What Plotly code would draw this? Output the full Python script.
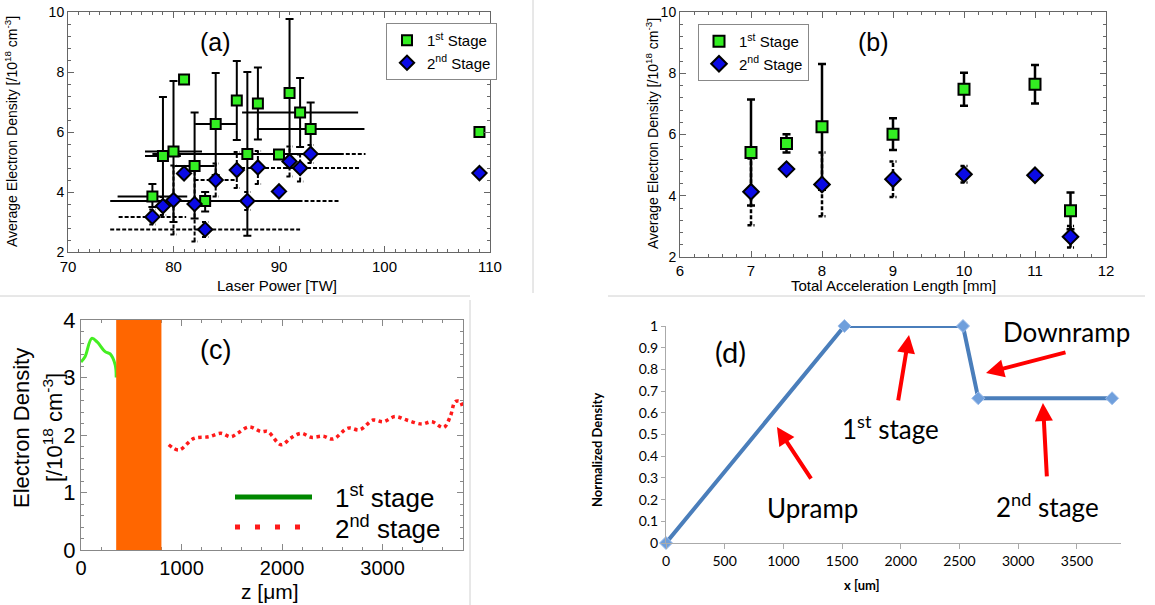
import plotly.graph_objects as go

W, H = 1155, 605

# ---------------- (a) average density vs laser power ----------------
power = [78, 79, 80, 81, 82, 83, 84, 86, 87, 88, 90, 91, 92, 93, 109]
a_stage1 = [3.85, 5.2, 5.35, 7.75, 4.87, 3.7, 6.27, 7.05, 5.27, 6.95, 5.25, 7.3, 6.65, 6.1, 6.0]
a_stage1_up = [0.42, 1.97, 2.35, 0, 1.78, 0.3, 1.7, 1.32, 2.73, 1.2, 0.1, 2.47, 1.15, 0.88, 0]
a_stage1_dn = [0.35, 1.7, 2.35, 0, 1.75, 0.35, 1.7, 1.32, 2.73, 1.2, 0.1, 2.5, 1.15, 0.88, 0]
a_stage1_xerr = [3.3, 1.7, 2.7, 0, 1.9, 9.0, 1.95, 0, 9.0, 0, 0, 0, 5.5, 5.1, 0]
a_stage2 = [3.17, 3.53, 3.73, 4.62, 3.6, 2.75, 4.4, 4.73, 3.7, 4.82, 4.02, 5.02, 4.8, 5.27, 4.63]
a_stage2_err = [0.25, 0.3, 1.15, 0, 1.25, 0.25, 0.55, 0.6, 0.3, 0.55, 0, 0.5, 0.45, 0.3, 0]
a_stage2_xerr = [3.2, 0, 0, 0, 0, 9.0, 2.0, 0, 8.8, 0, 0, 0, 5.6, 5.2, 0]

# ---------------- (b) average density vs acceleration length ----------------
accel_len = [7, 7.5, 8, 9, 10, 11, 11.5]
b_stage1 = [5.41, 5.71, 6.25, 6.01, 7.48, 7.64, 3.51]
b_stage1_err = [1.73, 0.3, 2.05, 0.52, 0.54, 0.63, 0.6]
b_stage2 = [4.13, 4.87, 4.37, 4.54, 4.70, 4.67, 2.66]
b_stage2_err = [1.09, 0.1, 1.04, 0.58, 0.27, 0, 0.35]

# ---------------- (c) simulated density profile ----------------
z_stage1 = [0, 40, 107, 160, 240, 290, 340, 350]
n_stage1 = [3.27, 3.36, 3.68, 3.62, 3.45, 3.41, 3.22, 3.0]
z_stage2 = [873, 973, 1123, 1273, 1390, 1490, 1557, 1673, 1790, 1857, 1990, 2090, 2190,
            2290, 2407, 2507, 2657, 2773, 2907, 3007, 3123, 3240, 3390, 3490, 3607,
            3673, 3723, 3773, 3800]
n_stage2 = [1.83, 1.74, 1.94, 1.97, 2.03, 1.97, 2.03, 2.14, 2.06, 2.06, 1.83, 1.95, 2.03,
            1.96, 1.98, 1.93, 2.12, 2.09, 2.26, 2.23, 2.32, 2.26, 2.19, 2.23, 2.13,
            2.32, 2.58, 2.58, 2.45]
blocked_z = [350, 800]
c_xticks = [0, 1000, 2000, 3000]
c_yticks = [0, 1, 2, 3, 4]

# ---------------- (d) normalized density model ----------------
ramp_x = [0, 1520, 2530, 2660, 3800]
ramp_y = [0, 1, 1, 0.667, 0.667]

GREEN = "#33ee22"
BLUE = "#0a0ae6"
ARIAL = "Liberation Sans"
CALIBRI = "Lato"


def fx(p):
    return p / W


def fy(p):
    return 1 - p / H


def dashed_bars(xs, ys, yerr, xerr, cap):
    sx, sy = [], []
    for x, y, ey, ex in zip(xs, ys, yerr, xerr):
        if ey > 0:
            sx += [x, x, None, x - cap, x + cap, None, x - cap, x + cap, None]
            sy += [y - ey, y + ey, None, y - ey, y - ey, None, y + ey, y + ey, None]
        if ex > 0:
            sx += [x - ex, x + ex, None]
            sy += [y, y, None]
    return sx, sy


fig = go.Figure()

# ---- (a)
sx, sy = dashed_bars(power, a_stage2, a_stage2_err, a_stage2_xerr, 0.3)
fig.add_trace(go.Scatter(x=sx, y=sy, mode="lines", xaxis="x", yaxis="y",
                         line=dict(color="black", width=2, dash="4px,2px"),
                         showlegend=False, hoverinfo="skip"))
fig.add_trace(go.Scatter(
    x=power, y=a_stage1, mode="markers", xaxis="x", yaxis="y",
    name="1<sup>st</sup> Stage", legend="legend",
    marker=dict(symbol="square", size=10, color=GREEN, line=dict(color="black", width=2)),
    error_y=dict(type="data", symmetric=False, array=a_stage1_up, arrayminus=a_stage1_dn,
                 color="black", thickness=2, width=4),
    error_x=dict(type="data", array=a_stage1_xerr, color="black", thickness=2, width=0)))
fig.add_trace(go.Scatter(
    x=power, y=a_stage2, mode="markers", xaxis="x", yaxis="y",
    name="2<sup>nd</sup> Stage", legend="legend",
    marker=dict(symbol="diamond", size=11, color=BLUE, line=dict(color="black", width=2))))

# ---- (b)
zeros = [0] * len(accel_len)
sx, sy = dashed_bars(accel_len, b_stage2, b_stage2_err, zeros, 0.05)
fig.add_trace(go.Scatter(x=sx, y=sy, mode="lines", xaxis="x2", yaxis="y2",
                         line=dict(color="black", width=2.5, dash="4px,2px"),
                         showlegend=False, hoverinfo="skip"))
fig.add_trace(go.Scatter(
    x=accel_len, y=b_stage1, mode="markers", xaxis="x2", yaxis="y2",
    name="1<sup>st</sup> Stage", legend="legend2",
    marker=dict(symbol="square", size=11, color=GREEN, line=dict(color="black", width=2)),
    error_y=dict(type="data", array=b_stage1_err, color="black", thickness=2.5, width=4)))
fig.add_trace(go.Scatter(
    x=accel_len, y=b_stage2, mode="markers", xaxis="x2", yaxis="y2",
    name="2<sup>nd</sup> Stage", legend="legend2",
    marker=dict(symbol="diamond", size=12, color=BLUE, line=dict(color="black", width=2))))

# ---- (c)
fig.add_trace(go.Scatter(x=z_stage1, y=n_stage1, mode="lines", xaxis="x3", yaxis="y3",
                         line=dict(color="#44ee22", width=3, shape="spline"),
                         showlegend=False, hoverinfo="skip"))
fig.add_trace(go.Scatter(x=z_stage2, y=n_stage2, mode="lines", xaxis="x3", yaxis="y3",
                         line=dict(color="#ff1a1a", width=3.5, dash="dot", shape="spline"),
                         showlegend=False, hoverinfo="skip"))

# ---- (d)
fig.add_trace(go.Scatter(x=ramp_x, y=ramp_y, mode="lines+markers", xaxis="x4", yaxis="y4",
                         line=dict(color="#4a7ebb", width=4),
                         marker=dict(symbol="diamond", size=10, color="#6f9fdc",
                                     line=dict(color="#9dbdea", width=1)),
                         cliponaxis=False, showlegend=False, hoverinfo="skip"))

box_axis = dict(showline=True, mirror="ticks", linecolor="#666", linewidth=1,
                ticks="inside", ticklen=6, tickcolor="#666", showgrid=False, zeroline=False,
                automargin=False, tickfont=dict(family=ARIAL, size=15, color="black"))
box_y = dict(box_axis, tickfont=dict(family=ARIAL, size=14, color="black"))

fig.update_layout(
    width=W, height=H, margin=dict(l=0, r=0, t=0, b=0, autoexpand=False),
    paper_bgcolor="white", plot_bgcolor="white",
    font=dict(family=ARIAL, color="black"),
    xaxis=dict(domain=[fx(68), fx(490)], anchor="y", range=[70, 110], dtick=10,
               ticklabelstandoff=1,
               minor=dict(dtick=1, ticklen=3, ticks="inside", tickcolor="#666"), **box_axis),
    yaxis=dict(domain=[fy(252), fy(12)], anchor="x", range=[2, 10], dtick=2,
               minor=dict(dtick=0.4, ticklen=3, ticks="inside", tickcolor="#666"), **box_y),
    xaxis2=dict(domain=[fx(680), fx(1106)], anchor="y2", range=[6, 12], dtick=1,
                minor=dict(dtick=0.2, ticklen=3, ticks="inside", tickcolor="#666"), **box_axis),
    yaxis2=dict(domain=[fy(257), fy(12)], anchor="x2", range=[2, 10], dtick=2,
                minor=dict(dtick=0.4, ticklen=3, ticks="inside", tickcolor="#666"), **box_y),
    xaxis3=dict(domain=[fx(81), fx(463)], anchor="y3", range=[0, 3800],
                tickvals=c_xticks, showline=True, mirror="ticks", linecolor="#888",
                ticks="inside", ticklen=6, tickcolor="#888", showgrid=False, zeroline=False,
                automargin=False,
                minor=dict(dtick=200, ticklen=3, ticks="inside", tickcolor="#888"),
                tickfont=dict(family=ARIAL, size=20, color="black")),
    yaxis3=dict(domain=[fy(550), fy(320)], anchor="x3", range=[0, 4],
                tickvals=c_yticks, showline=True, mirror="ticks", linecolor="#888",
                ticks="inside", ticklen=6, tickcolor="#888", showgrid=False, zeroline=False,
                automargin=False,
                minor=dict(dtick=0.2, ticklen=3, ticks="inside", tickcolor="#888"),
                tickfont=dict(family=ARIAL, size=22, color="black")),
    xaxis4=dict(domain=[fx(666), fx(1121)], anchor="y4", range=[0, 3876], dtick=500,
                showline=True, linecolor="#aaa", ticks="outside", ticklen=5, tickcolor="#aaa",
                showgrid=False, zeroline=False, automargin=False,
                tickfont=dict(family=CALIBRI, size=14, color="black")),
    yaxis4=dict(domain=[fy(543), fy(326)], anchor="x4", range=[0, 1], dtick=0.1,
                showline=True, linecolor="#aaa", ticks="outside", ticklen=4, tickcolor="#aaa",
                showgrid=False, zeroline=False, automargin=False,
                tickfont=dict(family=CALIBRI, size=14, color="black")),
    legend=dict(x=fx(386), y=fy(23), xanchor="left", yanchor="top", bgcolor="white",
                bordercolor="#888", borderwidth=1, itemwidth=30, tracegroupgap=0,
                font=dict(family=ARIAL, size=15, color="black")),
    legend2=dict(x=fx(698), y=fy(24), xanchor="left", yanchor="top", bgcolor="white",
                 bordercolor="#888", borderwidth=1, itemwidth=30, tracegroupgap=0,
                 font=dict(family=ARIAL, size=15, color="black")),
)

# blocked region in (c)
fig.add_shape(type="rect", xref="x3", yref="y3", x0=blocked_z[0], x1=blocked_z[1],
              y0=0, y1=4, fillcolor="#ff6600", line=dict(width=0), layer="above")

# hand-drawn legend for (c)
fig.add_shape(type="line", xref="paper", yref="paper", x0=fx(235), x1=fx(312),
              y0=fy(497), y1=fy(497), line=dict(color="#008800", width=5))
fig.add_shape(type="line", xref="paper", yref="paper", x0=fx(235), x1=fx(312),
              y0=fy(527), y1=fy(527), line=dict(color="#ff1a1a", width=5, dash="5px,15px"))

# sub-image borders
border = dict(color="#d0d0d0", width=1)
fig.add_shape(type="line", xref="paper", yref="paper", x0=fx(533), x1=fx(533),
              y0=1, y1=fy(293), line=border)
fig.add_shape(type="line", xref="paper", yref="paper", x0=0, x1=fx(470),
              y0=fy(296), y1=fy(296), line=border)
fig.add_shape(type="line", xref="paper", yref="paper", x0=fx(470), x1=fx(470),
              y0=fy(300), y1=0, line=border)
fig.add_shape(type="line", xref="paper", yref="paper", x0=fx(608), x1=fx(1145),
              y0=fy(296), y1=fy(296), line=border)


def label(text, x, y, size, family=ARIAL, angle=0, bold=False, xanchor="center"):
    if bold:
        text = "<b>" + text + "</b>"
    fig.add_annotation(text=text, x=fx(x), y=fy(y), xref="paper", yref="paper",
                       showarrow=False, textangle=angle, xanchor=xanchor, yanchor="middle",
                       font=dict(family=family, size=size, color="black"))


ylab = "Average Electron Density [/10<sup>18</sup> cm<sup>-3</sup>]"
label("(a)", 215, 42, 25)
label("Laser Power [TW]", 277, 285, 15)
label(ylab, 11, 132, 14, angle=-90)
label("(b)", 873, 42, 25)
label("Total Acceleration Length [mm]", 893, 285, 15)
label(ylab, 652, 134, 14, angle=-90)

label("(c)", 215, 350, 27)
label("z [μm]", 270, 591, 21)
label("Electron Density", 21, 428, 22, angle=-90)
label("[/10<sup>18</sup> cm<sup>-3</sup>]", 53, 428, 22, angle=-90)
label("1<sup>st</sup> stage", 333, 497, 26, xanchor="left")
label("2<sup>nd</sup> stage", 333, 527, 26, xanchor="left")

label("(d)", 730, 351, 29, family=CALIBRI)
label("Normalized Density", 597, 450, 13, family=CALIBRI, angle=-90, bold=True)
label("x [um]", 862, 585, 13, family=CALIBRI, bold=True)
label("Upramp", 812, 508, 26, family=CALIBRI)
label("1<sup>st</sup> stage", 890, 427, 26, family=CALIBRI)
label("Downramp", 1066, 332, 26, family=CALIBRI)
label("2<sup>nd</sup> stage", 1047, 505, 26, family=CALIBRI)

# red pointer arrows in (d)
arrows = [((945, 0.535), (1244, 0.29)),
          ((2070, 0.958), (1976, 0.65)),
          ((2726, 0.783), (3416, 0.88)),
          ((3211, 0.645), (3245, 0.30))]
for (hx, hy), (tx, ty) in arrows:
    fig.add_annotation(x=hx, y=hy, ax=tx, ay=ty, xref="x4", yref="y4", axref="x4", ayref="y4",
                       text="", showarrow=True, arrowhead=2, arrowsize=0.9, arrowwidth=4,
                       arrowcolor="#ff0000")

fig.write_html("out.html")
